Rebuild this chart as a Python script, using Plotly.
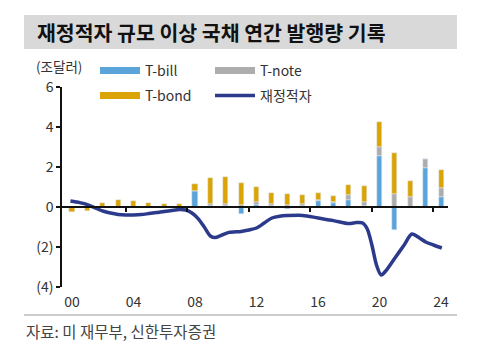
import plotly.graph_objects as go

# ---- data ----
years = list(range(2000, 2025))
t_bill = [0, 0, 0, 0, 0, 0, 0, 0, 0.80, 0.05, 0.05, -0.35, 0.10, 0.05, -0.10,
          0.05, 0.30, 0.22, 0.37, 0.05, 2.55, -1.15, 0.0, 1.97, 0.50]
t_note = [0, 0, 0, 0, 0, 0, 0, 0, 0, 0.10, 0.10, 0.10, 0.15, 0.12, 0.08,
          0.10, 0.05, 0.05, 0.21, 0.22, 0.45, 0.67, 0.50, 0.41, 0.47]
t_bond = [-0.25, -0.20, 0.20, 0.33, 0.32, 0.20, 0.13, 0.15, 0.35, 1.30, 1.33, 1.08, 0.73, 0.55, 0.55,
          0.45, 0.35, 0.26, 0.50, 0.76, 1.25, 2.03, 0.78, 0.0, 0.86]

deficit_x = [1999.9, 2000.5, 2001.0, 2001.5, 2002.0, 2002.5, 2003.0, 2003.5, 2004.0, 2004.5,
             2005.0, 2005.5, 2006.0, 2006.5, 2007.0, 2007.4, 2007.8, 2008.2, 2008.6, 2009.0,
             2009.3, 2009.7, 2010.2, 2011.0, 2011.5, 2012.0, 2012.5, 2013.0, 2013.5, 2014.0,
             2015.0, 2016.0, 2017.0, 2018.0, 2018.5, 2018.9, 2019.2, 2019.5, 2019.8, 2020.1,
             2020.4, 2021.0, 2021.6, 2022.1, 2022.6, 2023.0, 2023.5, 2024.05]
deficit_y = [0.30, 0.22, 0.12, -0.05, -0.20, -0.30, -0.37, -0.40, -0.40, -0.38,
             -0.33, -0.28, -0.22, -0.17, -0.13, -0.15, -0.30, -0.58, -1.00, -1.45,
             -1.53, -1.42, -1.27, -1.22, -1.15, -1.05, -0.80, -0.55, -0.46, -0.43,
             -0.42, -0.55, -0.68, -0.83, -0.78, -0.80, -1.10, -1.90, -2.90, -3.40,
             -3.20, -2.55, -1.90, -1.35, -1.55, -1.75, -1.90, -2.05]

xtick_vals = [2000, 2004, 2008, 2012, 2016, 2020, 2024]
xtick_text = ["00", "04", "08", "12", "16", "20", "24"]
xminor_vals = [2003.5, 2007.5, 2011.5, 2015.5, 2019.5, 2023.5]
ytick_vals = [-4, -2, 0, 2, 4, 6]
ytick_text = ["(4)", "(2)", "0", "2", "4", "6"]

title = "재정적자 규모 이상 국채 연간 발행량 기록"
source = "자료: 미 재무부, 신한투자증권"
unit = "(조달러)"

C_BILL = "#5BA4DA"
C_NOTE = "#ADADAD"
C_BOND = "#D9A404"
C_LINE = "#2C3A8C"
FONT = "Noto Sans CJK KR"

fig = go.Figure()
bar_w = 0.33
fig.add_trace(go.Bar(x=years, y=t_bill, marker_color=C_BILL, width=bar_w, showlegend=False, name="T-bill"))
fig.add_trace(go.Bar(x=years, y=t_note, marker_color=C_NOTE, width=bar_w, showlegend=False, name="T-note"))
fig.add_trace(go.Bar(x=years, y=t_bond, marker_color=C_BOND, width=bar_w, showlegend=False, name="T-bond"))
fig.add_trace(go.Scatter(x=deficit_x, y=deficit_y, mode="lines", showlegend=False,
                         line=dict(color=C_LINE, width=3.5, shape="spline", smoothing=0.8), name="재정적자"))

# legend entries (wide swatches)
leg_items = [("T-bill", C_BILL, 7, "legend"), ("T-note", C_NOTE, 7, "legend2"),
             ("T-bond", C_BOND, 7, "legend3"), ("재정적자", C_LINE, 3.5, "legend4")]
for name, col, w, lg in leg_items:
    fig.add_trace(go.Scatter(x=[None], y=[None], mode="lines", name=name,
                             line=dict(color=col, width=w), legend=lg))

# pixel helpers
L, R, T, B = 62, 48, 87, 63
W, H = 496, 350
pw, ph = W - L - R, H - T - B
def px(x): return (x - L) / pw
def py(y): return (H - B - y) / ph

leg_common = dict(bgcolor="rgba(0,0,0,0)", borderwidth=0, itemwidth=40,
                  font=dict(family=FONT, size=14, color="#333"),
                  xanchor="left", yanchor="middle", xref="paper", yref="paper")
fig.update_layout(
    legend=dict(x=px(95), y=py(71), **leg_common),
    legend2=dict(x=px(210), y=py(71), **leg_common),
    legend3=dict(x=px(95), y=py(96), **leg_common),
    legend4=dict(x=px(210), y=py(96), **leg_common),
)

fig.update_layout(
    width=W, height=H,
    margin=dict(l=L, r=R, t=T, b=B),
    paper_bgcolor="white", plot_bgcolor="white",
    barmode="relative", bargap=0,
    font=dict(family=FONT, size=14, color="#333"),
    xaxis=dict(range=[1999.35, 2024.45], tickvals=xtick_vals, ticktext=xtick_text,
               showgrid=False, zeroline=False, showline=False, ticks="",
               tickfont=dict(size=14, color="#333"), ticklabelstandoff=5),
    xaxis2=dict(range=[1999.35, 2024.45], overlaying="x", anchor="free", position=0.4,
                side="bottom", showline=True, linecolor="#111", linewidth=1.5,
                tickvals=xminor_vals, ticks="outside", ticklen=4, tickwidth=1.5, tickcolor="#111",
                showticklabels=False, showgrid=False, zeroline=False),
    yaxis=dict(range=[-4, 6], tickvals=ytick_vals, ticktext=ytick_text,
               showgrid=False, zeroline=False, showline=True, linecolor="#111", linewidth=1.5,
               ticks="outside", ticklen=4, tickwidth=1.5, tickcolor="#111",
               tickfont=dict(size=14, color="#333")),
)
# dummy trace on xaxis2 so it renders
fig.add_trace(go.Scatter(x=[None], y=[None], xaxis="x2", showlegend=False))

# title band
fig.add_shape(type="rect", xref="paper", yref="paper", x0=px(24), x1=px(457), y0=py(49), y1=py(15),
              fillcolor="#D9D9D9", line_width=0, layer="below")
fig.add_annotation(text="<b>" + title + "</b>", xref="paper", yref="paper", x=px(35), y=py(32),
                   xanchor="left", yanchor="middle", showarrow=False,
                   font=dict(family=FONT, size=20.5, color="#111"))
# unit
fig.add_annotation(text=unit, xref="paper", yref="paper", x=px(34), y=py(66),
                   xanchor="left", yanchor="middle", showarrow=False,
                   font=dict(family=FONT, size=13.5, color="#333"))
# source line and text
fig.add_shape(type="line", xref="paper", yref="paper", x0=px(24), x1=px(457), y0=py(315), y1=py(315),
              line=dict(color="#BBBBBB", width=1.5))
fig.add_annotation(text=source, xref="paper", yref="paper", x=px(24), y=py(331),
                   xanchor="left", yanchor="middle", showarrow=False,
                   font=dict(family=FONT, size=15.5, color="#444"))

fig.write_html("out.html")
